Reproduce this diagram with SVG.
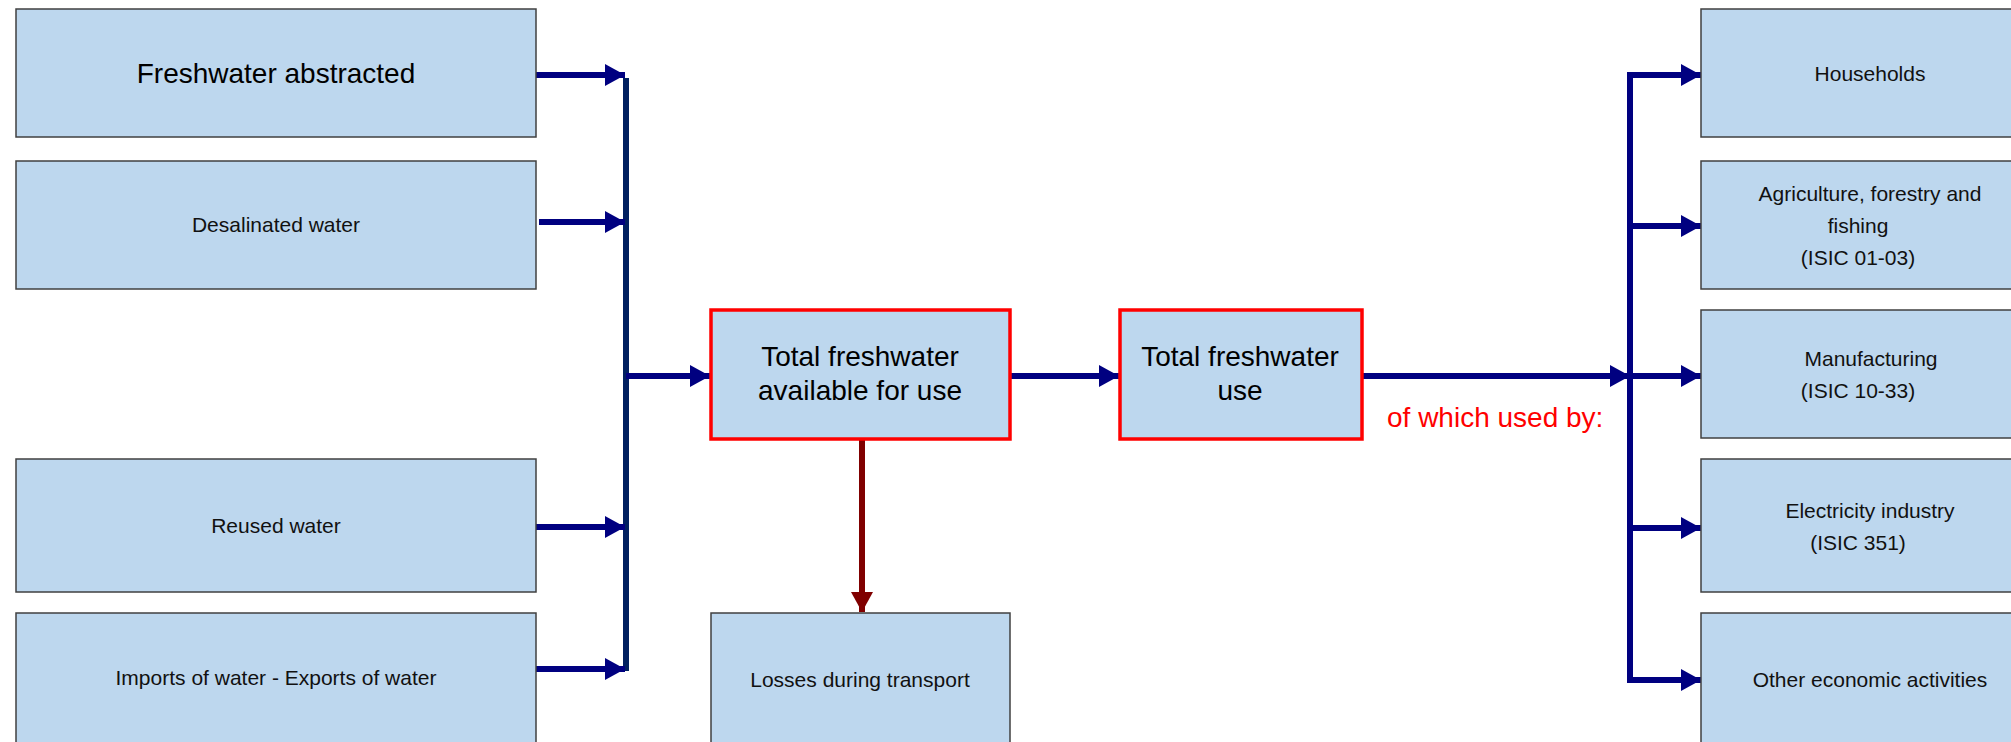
<svg xmlns="http://www.w3.org/2000/svg" width="2011" height="742" viewBox="0 0 2011 742">
<defs>
<marker id="ah" markerUnits="userSpaceOnUse" markerWidth="20" markerHeight="22" refX="20" refY="11" orient="auto" viewBox="0 0 20 22"><path d="M0,0 L20,11 L0,22 z" fill="#000080"/></marker>
<marker id="ahr" markerUnits="userSpaceOnUse" markerWidth="20" markerHeight="22" refX="20" refY="11" orient="auto" viewBox="0 0 20 22"><path d="M0,0 L20,11 L0,22 z" fill="#800000"/></marker>
</defs>
<style>
.box{fill:#BDD7EE;stroke:#404040;stroke-width:1.5}
.hl{fill:#BDD7EE;stroke:#FF0000;stroke-width:3.5}
.t{font-family:"Liberation Sans",Arial,sans-serif;font-size:21px;fill:#111;text-anchor:middle}
.tb{font-family:"Liberation Sans",Arial,sans-serif;font-size:28px;fill:#000;text-anchor:middle}
.a{stroke:#000080;stroke-width:6;fill:none;marker-end:url(#ah)}
.bus{stroke:#002060;stroke-width:6;fill:none}
.busr{stroke:#000080;stroke-width:6;fill:none}
</style>
<rect width="2011" height="742" fill="#FFFFFF"/>
<g id="connectors">
<line class="bus" x1="626" y1="78" x2="626" y2="671"/>
<line class="a" x1="536" y1="75" x2="625" y2="75"/>
<line class="a" x1="539" y1="222" x2="625" y2="222"/>
<line class="a" x1="536" y1="527" x2="625" y2="527"/>
<line class="a" x1="536" y1="669" x2="625" y2="669"/>
<line class="a" x1="626" y1="376" x2="710" y2="376"/>
<line class="a" x1="1011" y1="376" x2="1119" y2="376"/>
<line x1="862" y1="439" x2="862" y2="612" stroke="#800000" stroke-width="6" marker-end="url(#ahr)"/>
<line class="a" x1="1363" y1="376" x2="1630" y2="376"/>
<path class="busr" d="M1630,75 L1630,680"/>
<line class="a" x1="1627" y1="75" x2="1701" y2="75"/>
<line class="a" x1="1630" y1="226" x2="1701" y2="226"/>
<line class="a" x1="1630" y1="376" x2="1701" y2="376"/>
<line class="a" x1="1630" y1="528" x2="1701" y2="528"/>
<line class="a" x1="1627" y1="680" x2="1701" y2="680"/>
</g>
<g id="n-abstracted"><rect class="box" x="16" y="9" width="520" height="128"/><text class="tb" x="276" y="83">Freshwater abstracted</text></g>
<g id="n-desalinated"><rect class="box" x="16" y="161" width="520" height="128"/><text class="t" x="276" y="232">Desalinated water</text></g>
<g id="n-reused"><rect class="box" x="16" y="459" width="520" height="133"/><text class="t" x="276" y="533">Reused water</text></g>
<g id="n-imports"><rect class="box" x="16" y="613" width="520" height="131"/><text class="t" x="276" y="685">Imports of water - Exports of water</text></g>
<g id="n-available"><rect class="hl" x="711" y="310" width="299" height="129"/><text class="tb" x="860" y="366">Total freshwater</text><text class="tb" x="860" y="400">available for use</text></g>
<g id="n-use"><rect class="hl" x="1120" y="310" width="242" height="129"/><text class="tb" x="1240" y="366">Total freshwater</text><text class="tb" x="1240" y="400">use</text></g>
<g id="n-losses"><rect class="box" x="711" y="613" width="299" height="131"/><text class="t" x="860" y="687">Losses during transport</text></g>
<g id="lbl-usedby"><text x="1387" y="427" font-family="'Liberation Sans',Arial,sans-serif" font-size="28" fill="#FF0000">of which used by:</text></g>
<g id="n-households"><rect class="box" x="1701" y="9" width="340" height="128"/><text class="t" x="1870" y="81">Households</text></g>
<g id="n-agriculture"><rect class="box" x="1701" y="161" width="340" height="128"/><text class="t" x="1870" y="201">Agriculture, forestry and</text><text class="t" x="1858" y="233">fishing</text><text class="t" x="1858" y="265">(ISIC 01-03)</text></g>
<g id="n-manufacturing"><rect class="box" x="1701" y="310" width="340" height="128"/><text class="t" x="1871" y="366">Manufacturing</text><text class="t" x="1858" y="398">(ISIC 10-33)</text></g>
<g id="n-electricity"><rect class="box" x="1701" y="459" width="340" height="133"/><text class="t" x="1870" y="518">Electricity industry</text><text class="t" x="1858" y="550">(ISIC 351)</text></g>
<g id="n-other"><rect class="box" x="1701" y="613" width="340" height="131"/><text class="t" x="1870" y="687">Other economic activities</text></g>
</svg>
